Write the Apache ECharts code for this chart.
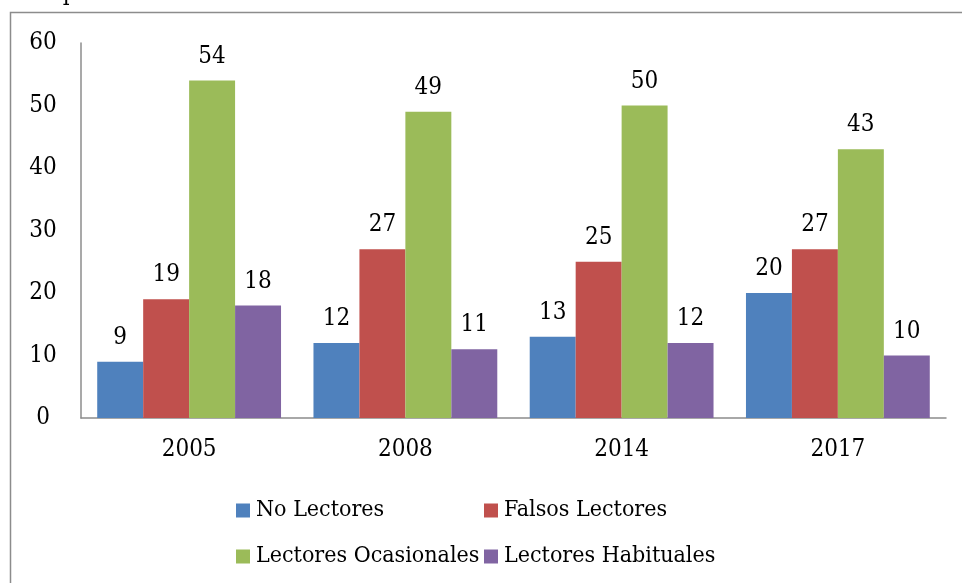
<!DOCTYPE html>
<html><head><meta charset="utf-8">
<script src="https://cdn.jsdelivr.net/npm/echarts@6/dist/echarts.min.js"></script>
<style>html,body{margin:0;padding:0;background:#fff}#c{width:962px;height:583px}</style>
</head><body><div id="c"></div>
<script>
var categories = ['2005', '2008', '2014', '2017'];
var seriesNames = ['No Lectores', 'Falsos Lectores', 'Lectores Ocasionales', 'Lectores Habituales'];
var noLectores = [9, 12, 13, 20];
var falsosLectores = [19, 27, 25, 27];
var lectoresOcasionales = [54, 49, 50, 43];
var lectoresHabituales = [18, 11, 12, 10];
var yTicks = [0, 10, 20, 30, 40, 50, 60];
var colors = ['#4F81BD', '#C0504D', '#9BBB59', '#8064A2'];
var values = [noLectores, falsosLectores, lectoresOcasionales, lectoresHabituales];
var FONT = '"DejaVu Serif Condensed", "DejaVu Serif", serif';
var FS = 24;

var chart = echarts.init(document.getElementById('c'), null, {renderer: 'canvas'});
var legendPos = [[231, 494], [479, 494], [231, 540], [479, 540]];
chart.setOption({
  animation: false,
  textStyle: {fontFamily: FONT},
  graphic: [
    {type: 'rect', shape: {x: 10.5, y: 12.5, width: 1000, height: 700}, style: {fill: 'none', stroke: '#8c8c8c', lineWidth: 1.5}, z: -1},
    {type: 'text', x: 160, y: 6, style: {text: 'Lectores por edad', font: FS + 'px ' + FONT, fill: '#000', align: 'right', verticalAlign: 'bottom'}}
  ],
  grid: {left: 81, right: 16, top: 43, bottom: 165},
  legend: seriesNames.map(function (n, i) {
    return {
      data: [n], left: legendPos[i][0], top: legendPos[i][1],
      itemWidth: 14, itemHeight: 14, itemGap: 0, icon: 'rect',
      textStyle: {fontFamily: FONT, fontSize: 23, color: '#000', padding: [0, 0, 0, 1]},
      selectedMode: false
    };
  }),
  xAxis: {
    type: 'category', data: categories,
    axisLine: {lineStyle: {color: '#8c8c8c', width: 1.5}},
    axisTick: {show: false},
    axisLabel: {fontFamily: FONT, fontSize: FS, color: '#000', margin: 20}
  },
  yAxis: {
    type: 'value', min: yTicks[0], max: yTicks[yTicks.length - 1], interval: 10,
    axisLine: {show: true, lineStyle: {color: '#8c8c8c', width: 1.5}},
    axisTick: {show: false},
    splitLine: {show: false},
    axisLabel: {fontFamily: FONT, fontSize: FS, color: '#000', margin: 38, align: 'center'}
  },
  series: seriesNames.map(function (n, i) {
    return {
      name: n, type: 'bar', data: values[i],
      barGap: '0%', barCategoryGap: '15%',
      itemStyle: {color: colors[i]},
      label: {show: true, position: 'top', distance: 12, fontFamily: FONT, fontSize: FS, color: '#000'}
    };
  })
});
</script></body></html>
